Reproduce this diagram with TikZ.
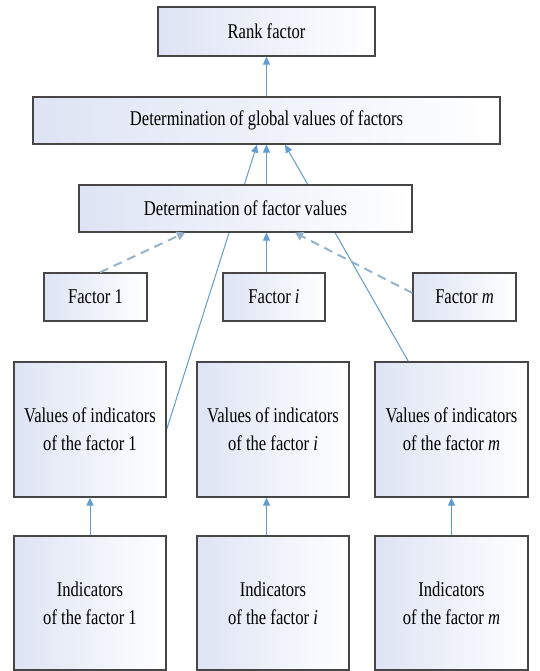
\documentclass[tikz,border=0pt]{standalone}
\usepackage{fontspec}
\setmainfont{Liberation Serif}[FakeStretch=0.79]
\usetikzlibrary{arrows.meta,calc,backgrounds}
\definecolor{boxfill}{RGB}{222,228,244}
\definecolor{lineblue}{RGB}{96,156,208}
\definecolor{dashblue}{RGB}{150,178,205}
\definecolor{edgegray}{RGB}{70,70,70}
\tikzset{
  box/.style={draw=edgegray, line width=1.3pt, left color=boxfill, right color=white,
    inner sep=0pt, align=center, font=\fontsize{21}{28}\selectfont},
  conn/.style={draw=lineblue, line width=1pt, -{Triangle[width=7pt,length=8pt]}},
  dconn/.style={draw=dashblue, line width=2pt, dash pattern=on 9pt off 6pt,
    -{Triangle[width=9pt,length=8pt]}},
}
\begin{document}
\begin{tikzpicture}[x=1pt,y=-1pt]
\useasboundingbox (0,0) rectangle (539,671);
\node[box, minimum width=217pt, minimum height=49pt] (rank) at (266.5,31.5) {Rank factor};
\node[box, minimum width=467pt, minimum height=47pt] (global) at (266.5,120.5) {Determination of global values of factors};
\node[box, minimum width=333pt, minimum height=47pt] (fv) at (245.5,208.5) {Determination of factor values};
\node[box, minimum width=103pt, minimum height=48pt] (f1) at (95.5,297) {Factor 1};
\node[box, minimum width=102pt, minimum height=48pt] (fi) at (274,297) {Factor \textit{i}};
\node[box, minimum width=103pt, minimum height=48pt] (fm) at (464.5,297) {Factor \textit{m}};
\node[box, minimum width=152pt, minimum height=135pt] (v1) at (90,429.5) {Values of indicators\\of the factor 1};
\node[box, minimum width=152pt, minimum height=135pt] (vi) at (273,429.5) {Values of indicators\\of the factor \textit{i}};
\node[box, minimum width=153pt, minimum height=135pt] (vm) at (451.5,429.5) {Values of indicators\\of the factor \textit{m}};
\node[box, minimum width=152pt, minimum height=134pt] (ind1) at (90,603) {Indicators\\of the factor 1};
\node[box, minimum width=152pt, minimum height=134pt] (indi) at (273,603) {Indicators\\of the factor \textit{i}};
\node[box, minimum width=153pt, minimum height=134pt] (indm) at (451.5,603) {Indicators\\of the factor \textit{m}};
\begin{scope}[on background layer]
\draw[conn] (v1.east) -- ($(global.south)+(-9.5,0)$);
\draw[conn] ($(vm.north west)!0.22!(vm.north east)$) -- ($(global.south)+(18.5,0)$);
\end{scope}
\draw[conn] (global.north) -- (rank.south);
\draw[conn] (fv.north -| rank.south) -- (global.south -| rank.south);
\draw[conn] (fi.north -| rank.south) -- (fv.south -| rank.south);
\draw[dconn] ($(f1.north)+(4.5,0)$) -- ($(fv.south)+(-60.5,0)$);
\draw[dconn] ($(fm.west)+(0,-4)$) -- ($(fv.south)+(49.5,0)$);
\draw[conn] (ind1.north) -- (v1.south);
\draw[conn] (indi.north -| rank.south) -- (vi.south -| rank.south);
\draw[conn] (indm.north) -- (vm.south);
\end{tikzpicture}
\end{document}
